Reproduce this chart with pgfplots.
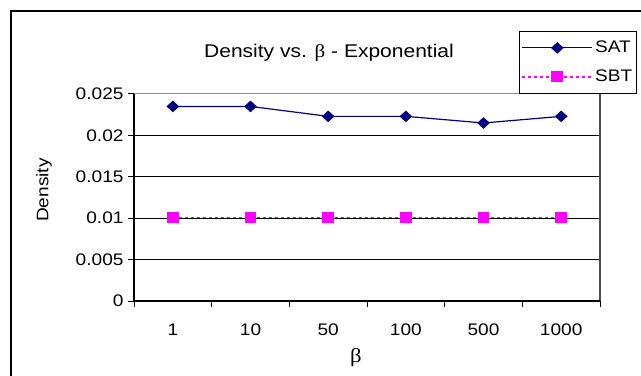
\documentclass[border=0pt]{standalone}
\usepackage{fontspec}
\setmainfont{Liberation Sans}[FakeStretch=1.14]
\newfontfamily\greekfont{Liberation Serif}[FakeStretch=1.14]
\usepackage{pgfplots}
\pgfplotsset{compat=1.18}

\definecolor{satblue}{RGB}{0,0,128}
\definecolor{sbtpink}{RGB}{255,0,255}

\pgfplotstableread{
idx beta   sat     sbt
0   1      0.0235  0.0101
1   10     0.0235  0.0101
2   50     0.0223  0.0101
3   100    0.0223  0.0101
4   500    0.0215  0.0101
5   1000   0.0223  0.0101
}\densitydata

\newcommand{\lblfont}{\fontsize{16.8}{18}\selectfont}

\begin{document}
\begin{tikzpicture}[x=1bp,y=1bp]
\useasboundingbox (0,0) rectangle (641,375);
% outer chart frame
\draw[line width=2bp] (11,-10) -- (11,364) -- (660,364);

\begin{axis}[
  at={(134bp,74bp)}, anchor=south west,
  scale only axis, width=466bp, height=207bp,
  xmin=-0.5, xmax=5.5, ymin=0, ymax=0.025,
  scaled y ticks=false,
  axis line style={draw=none},
  xtick={-0.5,0.5,1.5,2.5,3.5,4.5,5.5}, xticklabels={},
  ytick={0,0.005,0.01,0.015,0.02,0.025},
  yticklabels={0,0.005,0.01,0.015,0.02,0.025},
  tick align=outside, tick pos=left, major tick length=6bp,
  tick style={black, line width=1bp},
  extra x ticks={0,1,2,3,4,5},
  extra x tick labels={1,10,50,100,500,1000},
  extra x tick style={major tick length=0pt, xticklabel style={yshift=-19bp}},
  extra y ticks={0.005,0.01,0.015,0.02},
  extra y tick labels={},
  extra y tick style={major tick length=0pt, grid=major, grid style={black, line width=1bp}},
  ticklabel style={font=\lblfont},
  yticklabel style={xshift=-1bp},
  clip=false,
  legend style={at={(0.826,1.0)}, anchor=south west, draw=black, line width=1.2bp,
    fill=white, font=\lblfont, inner xsep=2bp, inner ysep=2bp,
    nodes={inner ysep=7bp, text height=12bp, text depth=3bp}},
  legend cell align=left,
  legend image code/.code={%
    \draw[mark repeat=2, mark phase=2, #1] plot coordinates {(0bp,0bp) (35bp,0bp) (70bp,0bp)};},
]
\addplot[satblue, line width=1.2bp, mark=diamond*, mark size=5bp,
  mark options={solid, xscale=1.45}] table[x=idx, y=sat] {\densitydata};
\addlegendentry{SAT}
\addplot[sbtpink, line width=1.6bp, dash pattern=on 3bp off 3bp, mark=square*, mark size=4.6bp,
  mark options={solid, xscale=1.1}] table[x=idx, y=sbt] {\densitydata};
\addlegendentry{SBT}
% plot-area border
\draw[line width=1bp, black!45] (rel axis cs:0,1) -- (rel axis cs:1,1);
\draw[line width=1.2bp, black!70] (rel axis cs:1,1) -- (rel axis cs:1,0);
\draw[line width=1.3bp, black] (rel axis cs:0,1) -- (rel axis cs:0,0) -- (rel axis cs:1,0);
\end{axis}

\node at (329,322) {\fontsize{18.5}{20}\selectfont Density vs. {\greekfont β} - Exponential};
\node at (356,17) {\greekfont\fontsize{20}{22}\selectfont β};
\node[rotate=90] at (44,185) {\lblfont Density};
\end{tikzpicture}
\end{document}
